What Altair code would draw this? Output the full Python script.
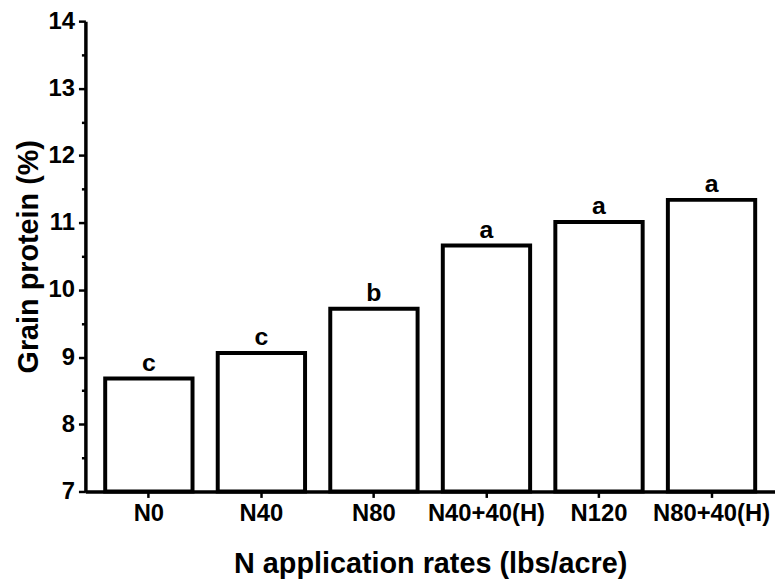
import altair as alt
import pandas as pd

categories = ["N0", "N40", "N80", "N40+40(H)", "N120", "N80+40(H)"]
protein = [8.68, 9.06, 9.72, 10.66, 11.01, 11.34]
letters = ["c", "c", "b", "a", "a", "a"]
tick_values = [7, 7.5, 8, 8.5, 9, 9.5, 10, 10.5, 11, 11.5, 12, 12.5, 13, 13.5, 14]

df = pd.DataFrame({"cat": categories, "val": protein, "lab": letters})

FONT = "Liberation Sans"

xenc = alt.X(
    "cat:N",
    sort=categories,
    scale=alt.Scale(paddingInner=0.224, paddingOuter=0.176),
    axis=alt.Axis(
        title="N application rates (lbs/acre)",
        labelAngle=0,
        labelFont=FONT, labelFontSize=24, labelFontWeight="bold", labelColor="black",
        titleFont=FONT, titleFontSize=29, titleFontWeight="bold", titleColor="black",
        titlePadding=25, labelPadding=4,
        domainColor="black", domainWidth=3.5,
        tickColor="black", tickWidth=2.5, tickSize=6,
        grid=False,
    ),
)

yenc = alt.Y(
    "val:Q",
    scale=alt.Scale(domain=[7, 14], nice=False, zero=False),
    axis=alt.Axis(
        title="Grain protein (%)",
        values=tick_values,
        labelExpr="datum.value % 1 === 0 ? format(datum.value, 'd') : ''",
        labelOverlap=False,
        grid=False,
        labelFont=FONT, labelFontSize=24, labelFontWeight="bold", labelColor="black",
        titleFont=FONT, titleFontSize=29, titleFontWeight="bold", titleColor="black",
        titlePadding=5, labelPadding=4,
        domainColor="black", domainWidth=3.5,
        tickColor="black", tickWidth=2.5,
        tickSize=alt.ExprRef(expr="datum.value % 1 === 0 ? 7 : 4"),
    ),
)

base = alt.Chart(df).encode(x=xenc, y=yenc)

bars = base.mark_bar(fill="white", stroke="black", strokeWidth=4).encode(
    y2=alt.datum(7)
)

text = base.mark_text(
    font=FONT, fontSize=25, fontWeight="bold", color="black", dy=-8, baseline="alphabetic"
).encode(text="lab:N")

chart = alt.layer(bars, text).properties(
    width=695,
    height=474,
    background="white",
    autosize=alt.AutoSizeParams(type="none"),
    padding={"left": 78, "top": 11, "right": 0, "bottom": 92},
).configure_view(stroke=None)

chart.save("out.html", embed_options={"renderer": "svg", "actions": False})
